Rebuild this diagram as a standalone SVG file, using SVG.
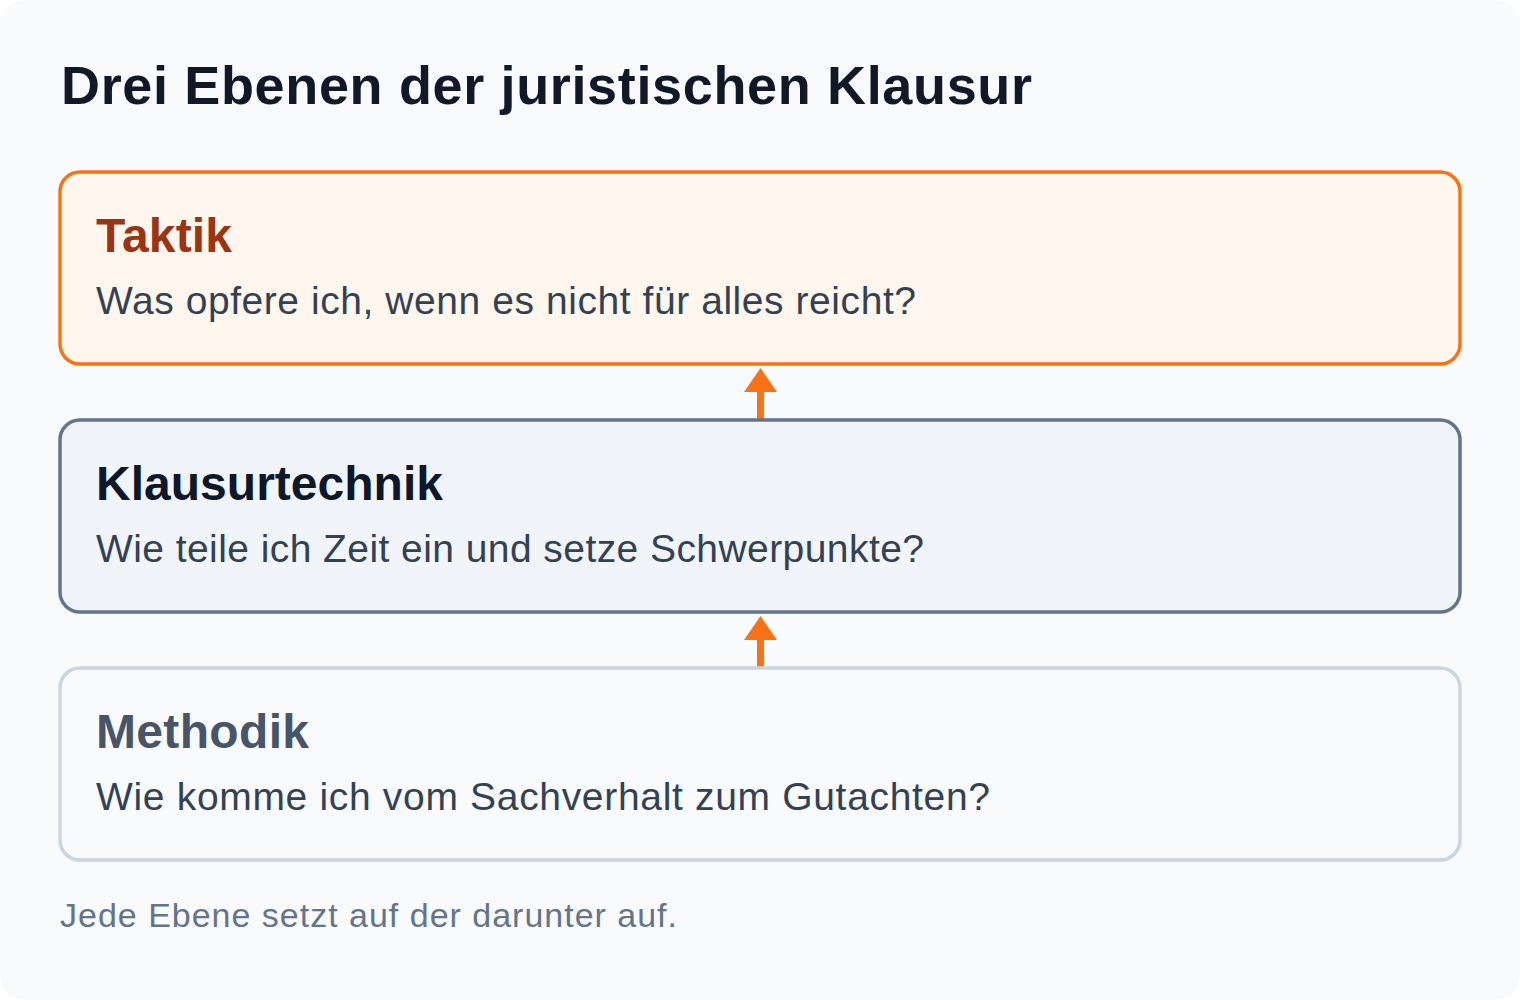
<svg xmlns="http://www.w3.org/2000/svg" width="1520" height="1000" viewBox="0 0 1520 1000">
<defs>
<style>
.t{font-family:"Liberation Sans",Arial,sans-serif;}
.title{font-size:54px;font-weight:bold;fill:#111827;}
.h{font-size:48px;font-weight:bold;}
.b{font-size:39px;fill:#334155;}
.f{font-size:34px;fill:#64748b;}
.arrow{fill:#f97316;}
</style>
</defs>
<rect x="0" y="0" width="1520" height="1000" fill="#ffffff"/>
<rect x="0" y="0" width="1520" height="1000" rx="26" fill="#f8fafc"/>
<text class="t title" x="61" y="104" textLength="971" lengthAdjust="spacing">Drei Ebenen der juristischen Klausur</text>
<g id="connectors">
<g id="arrow1"><rect class="arrow" x="757" y="390" width="7" height="29"/><polygon class="arrow" points="760.5,368 777,392 744,392"/></g>
<g id="arrow2"><rect class="arrow" x="757" y="638" width="7" height="29"/><polygon class="arrow" points="760.5,616 777,640 744,640"/></g>
</g>
<g id="taktik">
<rect x="60" y="172" width="1400" height="192" rx="20" fill="#fff7ed" stroke="#f97316" stroke-width="3.5"/>
<text class="t h" x="96" y="252" fill="#9a3412" textLength="136" lengthAdjust="spacing">Taktik</text>
<text class="t b" x="96" y="314" textLength="820" lengthAdjust="spacing">Was opfere ich, wenn es nicht für alles reicht?</text>
</g>
<g id="klausurtechnik">
<rect x="60" y="420" width="1400" height="192" rx="20" fill="#f1f5f9" stroke="#64748b" stroke-width="3.5"/>
<text class="t h" x="96" y="500" fill="#0f172a" textLength="347" lengthAdjust="spacing">Klausurtechnik</text>
<text class="t b" x="96" y="562" textLength="828" lengthAdjust="spacing">Wie teile ich Zeit ein und setze Schwerpunkte?</text>
</g>
<g id="methodik">
<rect x="60" y="668" width="1400" height="192" rx="20" fill="#f8fafc" stroke="#cbd5e1" stroke-width="3.5"/>
<text class="t h" x="96" y="748" fill="#475569" textLength="213" lengthAdjust="spacing">Methodik</text>
<text class="t b" x="96" y="810" textLength="894" lengthAdjust="spacing">Wie komme ich vom Sachverhalt zum Gutachten?</text>
</g>
<text class="t f" x="60" y="927" textLength="617" lengthAdjust="spacing">Jede Ebene setzt auf der darunter auf.</text>
</svg>
